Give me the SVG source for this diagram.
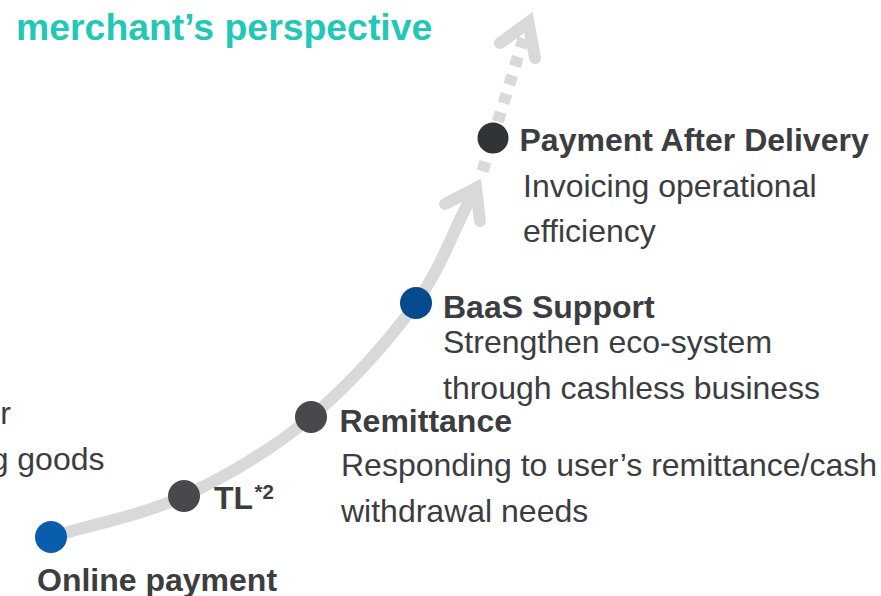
<svg xmlns="http://www.w3.org/2000/svg" width="881" height="596" viewBox="0 0 881 596">
<style>
.t{font-family:"Liberation Sans",Arial,Helvetica,sans-serif;font-size:32px;fill:#3b3d40}
.b{font-weight:bold}
.title{font-family:"Liberation Sans",Arial,Helvetica,sans-serif;font-size:37.4px;font-weight:bold;fill:#22c7b5}
.path{fill:none;stroke:#d9d9d9;stroke-width:12;stroke-linecap:round}
.head{fill:none;stroke:#d9d9d9;stroke-width:12;stroke-linecap:round;stroke-linejoin:miter;stroke-miterlimit:10}
.dash{fill:none;stroke:#d9d9d9;stroke-width:12;stroke-linecap:butt}
</style>
<rect width="881" height="596" fill="#ffffff"/>
<text class="title" x="16" y="40">merchant’s perspective</text>
<g id="connectors">
<path class="path" d="M51,537 C95.3,523.3 140.7,516 184,496 C227.3,476 272.3,449.2 311,417 C349.7,384.8 388.5,341.2 416,303 C443.5,264.8 454.7,225.4 476,188"/>
<polyline class="head" points="445,204 476,188 480,221"/>
<path class="dash" d="M482.5,171.3 L485.5,161.7 M497.8,121.8 L500.8,112.2 M503.5,103.3 L506.5,93.7 M509.2,84.8 L512.2,75.2 M514.9,66.3 L517.9,56.7 M520.6,47.8 L523.6,38.2"/>
<polyline class="head" points="500,43 528.5,22.5 535,58"/>
</g>
<g id="node-left">
<text class="t" x="11" y="424" text-anchor="end">r</text>
<text class="t" x="104.5" y="470" text-anchor="end">g goods</text>
</g>
<g id="node-online-payment">
<circle cx="51" cy="537" r="16" fill="#0a5cad"/>
<text class="t b" x="37" y="591">Online payment</text>
</g>
<g id="node-tl">
<circle cx="184" cy="496" r="16" fill="#48494d"/>
<text class="t b" x="214" y="509">TL<tspan font-size="20.5" dx="1.5" dy="-10">*2</tspan></text>
</g>
<g id="node-remittance">
<circle cx="311" cy="417" r="16" fill="#48494d"/>
<text class="t b" x="339.5" y="431.5">Remittance</text>
<text class="t" x="341" y="475.5">Responding to user’s remittance/cash</text>
<text class="t" x="341" y="521.5">withdrawal needs</text>
</g>
<g id="node-baas">
<circle cx="416" cy="303" r="16" fill="#044a8c"/>
<text class="t b" x="443" y="317.5">BaaS Support</text>
<text class="t" x="443" y="352.5">Strengthen eco-system</text>
<text class="t" x="443" y="398.5">through cashless business</text>
</g>
<g id="node-pad">
<circle cx="493" cy="138" r="15.5" fill="#313437"/>
<text class="t b" x="519.5" y="150.5">Payment After Delivery</text>
<text class="t" x="523" y="196.5">Invoicing operational</text>
<text class="t" x="523" y="241.5">efficiency</text>
</g>
</svg>
